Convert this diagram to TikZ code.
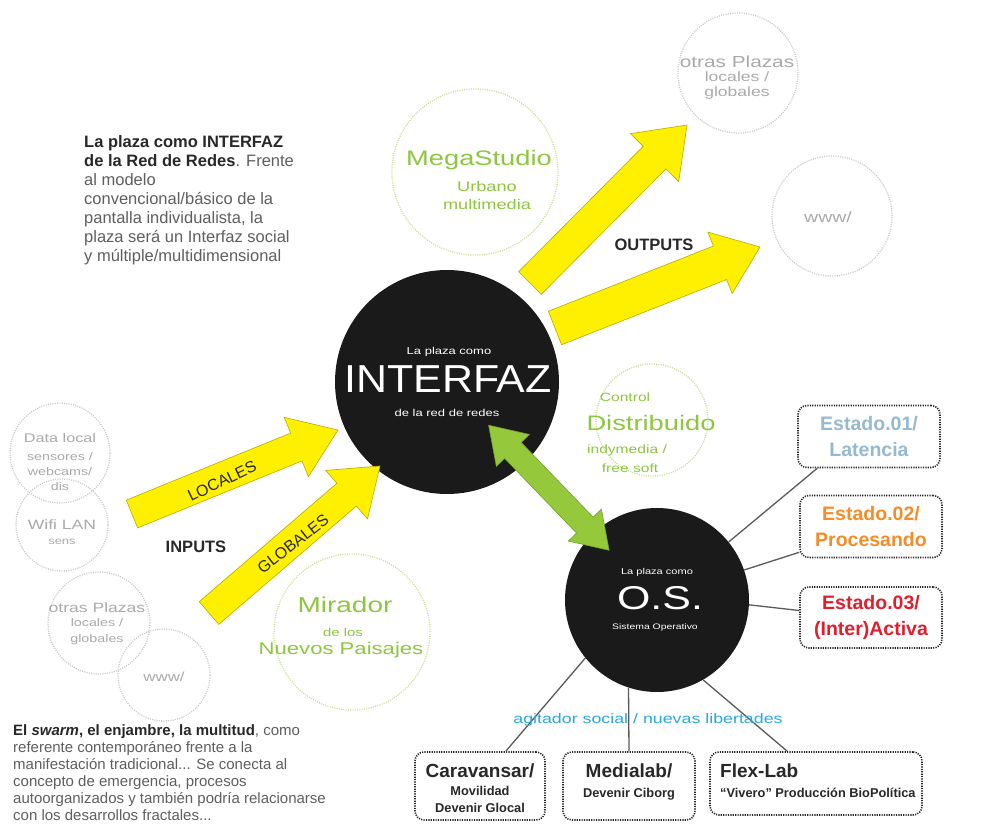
\documentclass[tikz,border=0pt]{standalone}
\usepackage{fontspec}
\usepackage{graphicx}
\setmainfont{Liberation Sans}
\newfontfamily\techfont[FakeStretch=1.3]{Liberation Sans}
\usetikzlibrary{calc}
\definecolor{ylw}{RGB}{255,240,0}
\definecolor{ylwedge}{RGB}{185,170,0}
\definecolor{grn}{RGB}{150,200,60}
\definecolor{grnedge}{RGB}{115,160,40}
\definecolor{lgrn}{RGB}{200,222,150}
\definecolor{techgreen}{RGB}{141,198,63}
\definecolor{lgray}{RGB}{200,200,200}
\definecolor{tgray}{RGB}{170,170,170}
\definecolor{dark}{RGB}{40,40,40}
\definecolor{bodyc}{RGB}{95,95,95}
\definecolor{blk}{RGB}{26,26,26}
\definecolor{e1c}{RGB}{150,185,210}
\definecolor{e2c}{RGB}{245,140,40}
\definecolor{e3c}{RGB}{225,30,45}
\definecolor{cyanc}{RGB}{40,170,225}
\definecolor{linec}{RGB}{90,90,90}
\newcommand\setfs[2]{\fontsize{#1}{#2}\selectfont}
% block arrow: [style]{start}{end}{half shaft}{half head}{head length}
\newcommand\blockarrow[6][]{%
  \coordinate (ba-s) at #2;
  \coordinate (ba-e) at #3;
  \coordinate (ba-n) at ($(ba-e)!#6!(ba-s)$);
  \filldraw[#1] ($(ba-s)!#4!90:(ba-e)$) -- ($(ba-n)!#4!-90:(ba-s)$) -- ($(ba-n)!#5!-90:(ba-s)$) -- (ba-e) -- ($(ba-n)!#5!90:(ba-s)$) -- ($(ba-n)!#4!90:(ba-s)$) -- ($(ba-s)!#4!-90:(ba-e)$) -- cycle;
}
% double block arrow
\newcommand\dblarrow[6][]{%
  \coordinate (da-s) at #2;
  \coordinate (da-e) at #3;
  \coordinate (da-n1) at ($(da-s)!#6!(da-e)$);
  \coordinate (da-n2) at ($(da-e)!#6!(da-s)$);
  \filldraw[#1] (da-s) -- ($(da-n1)!#5!90:(da-e)$) -- ($(da-n1)!#4!90:(da-e)$) -- ($(da-n2)!#4!-90:(da-s)$) -- ($(da-n2)!#5!-90:(da-s)$) -- (da-e) -- ($(da-n2)!#5!90:(da-s)$) -- ($(da-n2)!#4!90:(da-s)$) -- ($(da-n1)!#4!-90:(da-e)$) -- ($(da-n1)!#5!-90:(da-e)$) -- cycle;
}
\tikzset{
  blackcirc/.style={circle, fill=blk, inner sep=0pt, minimum size=#1},
  greencirc/.style={circle, draw=lgrn, line width=1.3pt, dash pattern=on 1pt off 1.3pt, inner sep=0pt, minimum size=#1},
  graycirc/.style={circle, draw=lgray, line width=1.3pt, dash pattern=on 1pt off 1.3pt, inner sep=0pt, minimum size=#1},
  statebox/.style={draw=dark, line width=1.6pt, dash pattern=on 1.2pt off 1.2pt, rounded corners=9pt, inner sep=0pt, minimum width=142pt, minimum height=62pt, align=center, font=\bfseries\setfs{19.5}{26}},
  labbox/.style={draw=dark, line width=1.6pt, dash pattern=on 1.2pt off 1.2pt, rounded corners=9pt, inner sep=0pt},
  conn/.style={draw=linec, line width=1.3pt},
  yarrow/.style={fill=ylw, draw=ylwedge, line width=0.6pt},
  garrow/.style={fill=grn, draw=grnedge, line width=0.6pt},
  ttext/.style={inner sep=0pt, font=\techfont\setfs{#1}{#1}},
  ptext/.style={inner sep=0pt, font=\setfs{#1}{#1}},
  btext/.style={inner sep=0pt, font=\bfseries\setfs{#1}{#1}},
}
\begin{document}
\begin{tikzpicture}[x=1pt,y=-1pt]
\useasboundingbox (0,0) rectangle (998,834);
\fill[white] (0,0) rectangle (998,834);

% gray dotted circles
\node[graycirc=120pt] (otrasR) at (738,73) {};
\node[graycirc=120pt] (wwwR) at (832,216) {};
\node[graycirc=100pt] (dataL) at (60,453) {};
\node[graycirc=92pt] (wifiL) at (62,525) {};
\node[graycirc=102pt] (otrasL) at (99,623) {};
\node[graycirc=92pt] (wwwL) at (164,675) {};

% green dotted circles
\node[greencirc=166pt] (mega) at (475,172) {};
\node[greencirc=112pt] (ctrl) at (652,420) {};
\node[greencirc=156pt] (mira) at (352,632) {};

% black circles
\node[blackcirc=224pt] (interfaz) at (447,382) {};
\node[blackcirc=184pt] (os) at (657,600) {};

% yellow arrows
\blockarrow[yarrow]{(132,514)}{(338,430)}{15pt}{32pt}{45pt}
\blockarrow[yarrow]{(209,613)}{(380,466)}{15pt}{32pt}{44pt}
\blockarrow[yarrow]{(530,283)}{(687,125)}{16pt}{34pt}{46pt}
\blockarrow[yarrow]{(555,328)}{(760,247)}{18pt}{33pt}{43pt}

% green double arrow between the two black circles
\dblarrow[garrow]{($(interfaz.center)!60pt!(os.center)$)}{($(os.center)!69pt!(interfaz.center)$)}{11.5pt}{23pt}{35pt}

% state boxes
\node[statebox, text=e1c] (e1) at (869,436.5) {Estado.01/\\Latencia};
\node[statebox, text=e2c] (e2) at (871,526.5) {Estado.02/\\Procesando};
\node[statebox, text=e3c, minimum height=61pt] (e3) at (871,617.5) {Estado.03/\\(Inter)Activa};

% bottom boxes
\node[labbox, minimum width=130pt, minimum height=68pt] (cara) at (480,786) {};
\node[labbox, minimum width=132pt, minimum height=68pt] (media) at (629,786) {};
\node[labbox, minimum width=212pt, minimum height=63pt] (flex) at (816,783.5) {};

% connectors
\draw[conn] (os.39) -- ([xshift=20pt]e1.south west);
\draw[conn] (os.19) -- ([yshift=6pt]e2.south west);
\draw[conn] (os.-3) -- ([yshift=7pt]e3.west);
\draw[conn] (os.219) -- ([xshift=-40pt]cara.north east);
\draw[conn] (os.252) -- (media.north);
\draw[conn] (os.-60) -- ([xshift=78pt]flex.north west);

% texts in black circles
\node[ttext=10, text=white] (if1) at (449,352) {La plaza como};
\node[ptext=39, text=white] (if2) at (448,379) {\scalebox{1.1}[1]{INTERFAZ}};
\node[ttext=10, text=white] (if3) at (447,413) {de la red de redes};
\node[ttext=8.5, text=white] (os1) at (657,572) {La plaza como};
\node[ttext=33, text=white] (os2) at (660,598) {O.S.};
\node[ttext=8, text=white] (os3) at (655,627) {Sistema Operativo};

% green circle texts
\node[ttext=21, text=techgreen] (mg1) at (479,160) {MegaStudio};
\node[ttext=14, text=techgreen] (mg2) at (487,186) {Urbano};
\node[ttext=14, text=techgreen] (mg3) at (487,204) {multimedia};
\node[ttext=12, text=techgreen] (ct1) at (625,397) {Control};
\node[ttext=21, text=techgreen] (ct2) at (651,423) {Distribuido};
\node[ttext=12, text=techgreen] (ct3) at (627,450) {indymedia /};
\node[ttext=12, text=techgreen] (ct4) at (630,468) {free soft};
\node[ttext=21.5, text=techgreen] (mi1) at (345,605) {Mirador};
\node[ttext=11.5, text=techgreen] (mi2) at (343,632) {de los};
\node[ttext=17, text=techgreen] (mi3) at (341,650) {Nuevos Paisajes};

% gray circle texts
\node[ttext=16, text=tgray] (or1) at (737,62) {otras Plazas};
\node[ttext=13.5, text=tgray] (or2) at (737,77) {locales /};
\node[ttext=13.5, text=tgray] (or3) at (737,93) {globales};
\node[ttext=15, text=tgray] (wr1) at (828,217) {www/};
\node[ttext=12.5, text=tgray] (dl1) at (60,438) {Data local};
\node[ttext=11, text=tgray] (dl2) at (60,457) {sensores /};
\node[ttext=11, text=tgray] (dl3) at (60,472) {webcams/};
\node[ttext=11, text=tgray] (dl4) at (60,487) {dis};
\node[ttext=13.5, text=tgray] (wf1) at (62,525) {Wifi LAN};
\node[ttext=10, text=tgray] (wf2) at (62,542) {sens};
\node[ttext=13.5, text=tgray] (ol1) at (97,608) {otras Plazas};
\node[ttext=11, text=tgray] (ol2) at (97,623) {locales /};
\node[ttext=11, text=tgray] (ol3) at (97,640) {globales};
\node[ttext=13, text=tgray] (wl1) at (164,677) {www/};

% arrow labels
\node[btext=16.5, text=dark] (inputs) at (196,547) {INPUTS};
\node[btext=16.5, text=dark] (outputs) at (654,245) {OUTPUTS};
\node[ptext=16, text=dark, rotate=25.5] (locales) at (222,481) {LOCALES};
\node[ptext=16, text=dark, rotate=38] (globales) at (293,544) {GLOBALES};

% agitador
\node[ttext=13.7, text=cyanc] (agit) at (648,720) {agitador social / nuevas libertades};

% bottom box texts
\node[btext=19, text=dark, anchor=base] (ca1) at (480,777) {Caravansar/};
\node[btext=12.8, text=dark, anchor=base] (ca2) at (480,795) {Movilidad};
\node[btext=12.8, text=dark, anchor=base] (ca3) at (480,812) {Devenir Glocal};
\node[btext=19, text=dark, anchor=base] (me1) at (629,777) {Medialab/};
\node[btext=12.8, text=dark, anchor=base] (me2) at (629,797) {Devenir Ciborg};
\node[btext=19, text=dark, anchor=base west] (fl1) at (720,777) {Flex-Lab};
\node[btext=12.8, text=dark, anchor=base west] (fl2) at (720,797) {“Vivero” Producción BioPolítica};

% paragraphs
\node[anchor=north west, inner sep=0pt, align=left, font=\setfs{16.5}{19}, text=bodyc] (ptop) at (84,135)
 {\textcolor{dark}{\textbf{La plaza como INTERFAZ}}\\
  \textcolor{dark}{\textbf{de la Red de Redes}}. Frente\\
  al modelo\\
  convencional/básico de la\\
  pantalla individualista, la\\
  plaza será un Interfaz social\\
  y múltiple/multidimensional};
\node[anchor=north west, inner sep=0pt, align=left, font=\setfs{15}{17}, text=bodyc] (pbot) at (13,724)
 {\textcolor{dark}{\textbf{El \textit{swarm}, el enjambre, la multitud}}, como\\
  referente contemporáneo frente a la\\
  manifestación tradicional... Se conecta al\\
  concepto de emergencia, procesos\\
  autoorganizados y también podría relacionarse\\
  con los desarrollos fractales...};
\end{tikzpicture}
\end{document}
